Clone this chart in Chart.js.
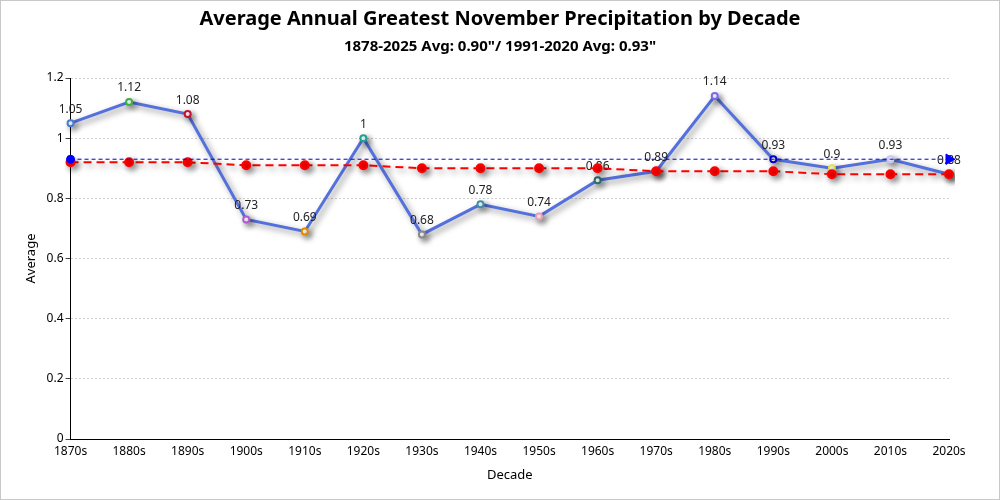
<!DOCTYPE html>
<html>
<head>
    <title>November Precipitation</title>
    <script src="https://cdn.jsdelivr.net/npm/chart.js"></script>
    <style>
        body { margin: 0; background: #fff; }
        #wrap { width: 998px; height: 498px; border: 1px solid #c8c8c8; }
    </style>
</head>
<body>

<div id="wrap"><canvas id="myChart"></canvas></div>

<script>
    const decades = ['1870s', '1880s', '1890s', '1900s', '1910s', '1920s', '1930s', '1940s',
                     '1950s', '1960s', '1970s', '1980s', '1990s', '2000s', '2010s', '2020s'];
    const averages = [1.05, 1.12, 1.08, 0.73, 0.69, 1.00, 0.68, 0.78, 0.74, 0.86, 0.89, 1.14, 0.93, 0.90, 0.93, 0.88];
    const trend = [0.92, 0.92, 0.92, 0.91, 0.91, 0.91, 0.90, 0.90, 0.90, 0.90, 0.89, 0.89, 0.89, 0.88, 0.88, 0.88];
    const normal1991 = 0.93;

    const pointColors = ['#4a7bd0', '#3cb043', '#c8102e', '#b05cc8', '#e08a00', '#20a090', '#888888', '#3d8fa8',
                         '#e8a0b4', '#2a6e6a', '#4a7bd0', '#7b68ee', '#0000cd', '#e6e04a', '#c8c8f0', '#4a7bd0'];

    const font = "'Noto Sans', 'Open Sans', sans-serif";
    Chart.defaults.font.family = font;
    Chart.defaults.color = '#000';

    const normalLine = decades.map(() => normal1991);
    const last = decades.length - 1;

    const shadowPlugin = {
        id: 'shadow',
        beforeDatasetDraw(chart, args) {
            if (args.index === 2) return;
            const ctx = chart.ctx;
            ctx.save();
            ctx.shadowColor = 'rgba(0, 0, 0, 0.45)';
            ctx.shadowBlur = 6;
            ctx.shadowOffsetX = 3;
            ctx.shadowOffsetY = 3;
        },
        afterDatasetDraw(chart, args) {
            if (args.index === 2) return;
            chart.ctx.restore();
            if (args.index !== 0) return;
            // value labels above the decade averages
            const ctx = chart.ctx;
            const meta = chart.getDatasetMeta(0);
            ctx.save();
            ctx.font = '12px ' + font;
            ctx.fillStyle = '#222';
            ctx.textAlign = 'center';
            ctx.textBaseline = 'bottom';
            meta.data.forEach((pt, i) => {
                ctx.fillText(String(averages[i]), pt.x, pt.y - 8);
            });
            ctx.restore();
        }
    };

    const ctx = document.getElementById('myChart').getContext('2d');
    const chart = new Chart(ctx, {
        type: 'line',
        data: {
            labels: decades,
            datasets: [
                {
                    label: 'Average',
                    data: averages,
                    borderColor: '#5470dc',
                    borderWidth: 3,
                    tension: 0,
                    pointRadius: 3,
                    pointBorderWidth: 2,
                    pointBackgroundColor: '#fff',
                    pointBorderColor: pointColors,
                    order: 3
                },
                {
                    label: 'Trend',
                    data: trend,
                    borderColor: '#ff0000',
                    borderWidth: 2,
                    borderDash: [8, 5],
                    pointRadius: 4,
                    pointBackgroundColor: '#ff0000',
                    pointBorderColor: '#ff0000',
                    order: 2
                },
                {
                    label: '1991-2020 Avg',
                    data: normalLine,
                    borderColor: '#0000cc',
                    borderWidth: 1,
                    borderDash: [4, 3],
                    pointStyle: decades.map((d, i) => i === last ? 'triangle' : 'circle'),
                    rotation: decades.map((d, i) => i === last ? 90 : 0),
                    pointRadius: decades.map((d, i) => (i === 0 ? 4 : (i === last ? 6 : 0))),
                    pointBackgroundColor: '#0000ff',
                    pointBorderColor: '#0000ff',
                    order: 1
                }
            ]
        },
        options: {
            responsive: true,
            maintainAspectRatio: false,
            animation: false,
            layout: { padding: { left: 18, right: 18, top: 4, bottom: 12 } },
            plugins: {
                legend: { display: false },
                tooltip: { enabled: false },
                title: {
                    display: true,
                    text: 'Average Annual Greatest November Precipitation by Decade',
                    font: { size: 20, weight: 'bold' },
                    padding: { top: 2, bottom: 7 }
                },
                subtitle: {
                    display: true,
                    text: '1878-2025 Avg: 0.90"/ 1991-2020 Avg: 0.93"',
                    font: { size: 15, weight: 'bold' },
                    padding: { bottom: 22 }
                }
            },
            scales: {
                x: {
                    offset: false,
                    grid: { display: false, drawTicks: false },
                    border: { display: true, color: '#000', width: 1 },
                    ticks: { font: { size: 12 }, padding: 5, maxRotation: 0 },
                    title: { display: true, text: 'Decade', font: { size: 13 }, padding: { top: 4 } }
                },
                y: {
                    min: 0,
                    max: 1.2,
                    ticks: {
                        stepSize: 0.2,
                        font: { size: 12 },
                        padding: 2,
                        callback: value => String(+value.toFixed(1))
                    },
                    grid: { color: '#cfcfcf', tickColor: '#444', tickLength: 5 },
                    border: { display: true, color: '#000', width: 1, dash: [2, 2] },
                    title: { display: true, text: 'Average', font: { size: 13 }, padding: { bottom: 6 } }
                },
                // empty right axis, only keeps room at the right of the plot
                yRight: {
                    position: 'right',
                    min: 0,
                    max: 1.2,
                    grid: { display: false, drawTicks: false },
                    border: { display: false },
                    ticks: { display: false },
                    afterFit: scale => { scale.width = 32; }
                }
            }
        },
        plugins: [shadowPlugin]
    });
</script>

</body>
</html>
